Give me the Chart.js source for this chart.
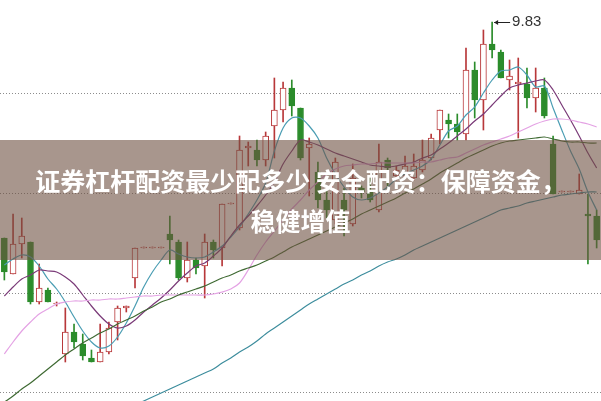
<!DOCTYPE html>
<html lang="zh-CN">
<head>
<meta charset="utf-8">
<title>证券杠杆配资最少配多少 安全配资：保障资金，稳健增值</title>
<script src="https://cdn.jsdelivr.net/npm/chart.js@4.4.1/dist/chart.umd.min.js"></script>
<style>
  html, body { margin: 0; padding: 0; background: #fff; overflow: hidden; }
  #wrap { position: relative; width: 601px; height: 401px; }
  #banner {
    position: absolute; left: 0; top: 140px; width: 601px; height: 120px;
    box-sizing: border-box; padding-top: 20px;
    background: rgba(110, 80, 65, 0.6);
    color: #fff; font-family: "Noto Sans CJK SC", "Noto Sans", sans-serif;
    font-weight: 700; font-size: 25px; line-height: 40px; text-align: center;
  }
</style>
</head>
<body>
<div id="wrap">
  <canvas id="klineChart" width="601" height="401"></canvas>
  <div id="banner">证券杠杆配资最少配多少 安全配资：保障资金，<br>稳健增值</div>
</div>
<script>
// --- Daily prices ---
const openP  = [8.75,8.57,8.72,8.73,8.43,8.49,8.42,8.17,8.28,8.22,8.15,8.13,8.18,8.33,8.40,8.55,8.70,8.70,8.70,8.77,
                8.73,8.55,8.64,8.61,8.73,8.70,8.92,8.80,9.20,9.19,9.14,9.31,9.39,9.50,9.40,9.20,9.08,8.94,8.84,8.94,
                8.82,9.00,8.99,8.89,9.14,9.06,9.06,9.05,9.09,9.15,9.29,9.34,9.32,9.27,9.59,9.44,9.72,9.68,9.54,9.52,
                9.52,9.45,9.50,9.22,8.98,8.98,8.97,8.87,8.86];
const highP  = [8.75,8.87,8.85,8.73,8.62,8.50,8.43,8.40,8.32,8.27,8.19,8.32,8.33,8.41,8.41,8.70,8.70,8.70,8.70,8.86,
                8.74,8.73,8.65,8.77,8.74,8.92,8.92,9.26,9.23,9.24,9.28,9.55,9.53,9.54,9.40,9.25,9.13,8.99,9.15,9.00,
                9.12,9.01,9.05,9.22,9.15,9.11,9.16,9.17,9.24,9.27,9.39,9.37,9.37,9.70,9.63,9.79,9.83,9.69,9.64,9.65,
                9.60,9.60,9.55,9.26,8.98,8.98,9.07,8.97,8.89];
const lowP   = [8.54,8.57,8.65,8.42,8.42,8.43,8.41,8.13,8.20,8.14,8.13,8.13,8.17,8.24,8.38,8.50,8.70,8.70,8.70,8.62,
                8.54,8.53,8.57,8.45,8.65,8.61,8.92,8.79,9.11,9.11,9.11,9.15,9.33,9.36,9.14,8.96,8.90,8.85,8.82,8.76,
                8.81,8.95,8.93,8.88,9.00,9.04,9.05,9.04,9.08,9.14,9.22,9.25,9.24,9.24,9.35,9.29,9.65,9.55,9.49,9.25,
                9.40,9.38,9.35,8.97,8.98,8.98,8.97,8.62,8.70];
const closeP = [8.58,8.72,8.76,8.43,8.50,8.43,8.42,8.28,8.23,8.16,8.13,8.18,8.30,8.40,8.41,8.70,8.70,8.70,8.70,8.74,
                8.55,8.64,8.60,8.73,8.69,8.92,8.92,9.19,9.21,9.14,9.26,9.39,9.50,9.41,9.15,9.22,8.94,8.89,9.13,8.89,
                9.05,8.98,8.94,9.13,9.10,9.09,9.11,9.11,9.14,9.25,9.39,9.32,9.28,9.59,9.44,9.72,9.69,9.55,9.56,9.53,
                9.45,9.50,9.36,8.97,8.98,8.98,8.99,8.86,8.74];

// --- Moving average lines ---
const ma5  = [8.615,8.645,8.665,8.655,8.61,8.545,8.495,8.43,8.355,8.285,8.23,8.20,8.21,8.255,8.325,8.41,8.505,8.58,8.64,8.69,
              8.67,8.655,8.65,8.655,8.68,8.71,8.755,8.805,8.87,8.94,9.025,9.185,9.30,9.35,9.35,9.31,9.25,9.15,9.07,9.005,
              8.955,8.94,8.95,8.975,9.005,9.045,9.07,9.09,9.11,9.145,9.215,9.285,9.31,9.365,9.405,9.475,9.54,9.585,9.59,9.605,
              9.565,9.505,9.51,9.40,9.29,9.185,9.095,8.98,8.89];
const ma10 = [8.46,8.505,8.545,8.565,8.59,8.585,8.58,8.555,8.52,8.465,8.41,8.36,8.32,8.30,8.31,8.34,8.38,8.415,8.45,8.49,
              8.535,8.575,8.61,8.625,8.66,8.70,8.76,8.815,8.86,8.91,8.965,9.03,9.12,9.185,9.24,9.23,9.215,9.195,9.175,9.16,
              9.145,9.13,9.115,9.11,9.105,9.11,9.12,9.13,9.15,9.165,9.195,9.225,9.26,9.295,9.335,9.37,9.415,9.46,9.50,9.515,
              9.525,9.535,9.54,9.49,9.415,9.34,9.26,9.175,9.10];
const ma20 = [8.17,8.23,8.285,8.33,8.37,8.395,8.42,8.43,8.435,8.435,8.44,8.44,8.445,8.445,8.45,8.455,8.46,8.46,8.465,8.465,
              8.465,8.465,8.465,8.465,8.47,8.48,8.495,8.525,8.59,8.665,8.73,8.785,8.84,8.895,8.94,8.99,9.03,9.07,9.095,9.11,
              9.115,9.12,9.12,9.125,9.125,9.125,9.125,9.125,9.13,9.13,9.14,9.15,9.155,9.175,9.195,9.215,9.23,9.245,9.26,9.28,
              9.30,9.32,9.335,9.345,9.345,9.34,9.33,9.32,9.305];
const ma30 = [7.93,7.96,7.995,8.025,8.06,8.095,8.13,8.165,8.195,8.225,8.25,8.275,8.295,8.32,8.34,8.36,8.385,8.405,8.43,8.445,
              8.465,8.48,8.495,8.51,8.53,8.55,8.565,8.585,8.60,8.615,8.635,8.655,8.68,8.705,8.725,8.745,8.765,8.785,8.805,8.825,
              8.845,8.87,8.89,8.91,8.93,8.95,8.975,8.995,9.02,9.045,9.075,9.10,9.125,9.15,9.17,9.19,9.21,9.225,9.235,9.24,
              9.245,9.25,9.255,9.245,9.235,9.23,9.23,9.225,9.225];
const ma60 = [null,null,null,null,null,null,null,null,null,null,null,null,null,null,7.895,7.915,7.935,7.955,7.975,7.995,
              8.015,8.035,8.055,8.075,8.095,8.125,8.15,8.18,8.205,8.235,8.27,8.30,8.33,8.36,8.39,8.42,8.445,8.47,8.495,8.52,
              8.54,8.565,8.585,8.61,8.63,8.645,8.665,8.69,8.71,8.73,8.75,8.77,8.79,8.81,8.83,8.85,8.87,8.89,8.90,8.91,
              8.925,8.935,8.945,8.955,8.965,8.97,8.975,8.98,8.98];

// --- Axis range and the dotted price levels ---
const priceMin = 7.935;
const priceMax = 9.94;
const gridLevels = [9.4775, 8.9775, 8.4775, 7.9775];

const days = openP.map((_, i) => 'D' + (i + 1));

// --- Colours ---
const UP = '#b8383a';
const DOWN = '#2b8c2b';

function isUp(i){
    return closeP[i] >= openP[i];
}

// --- Plugins ---
// dotted horizontal levels under the candles
const gridPlugin = {
    id: 'dottedGrid',
    beforeDatasetsDraw(chart){
        let ctx = chart.ctx;
        let area = chart.chartArea;
        let y = chart.scales.y;
        ctx.save();
        ctx.strokeStyle = '#8c8c8c';
        ctx.lineWidth = 1;
        ctx.setLineDash([1, 2]);
        gridLevels.forEach(level => {
            let py = Math.round(y.getPixelForValue(level)) + 0.5;
            ctx.beginPath();
            ctx.moveTo(area.left, py);
            ctx.lineTo(area.right, py);
            ctx.stroke();
        });
        ctx.restore();
    }
};

// arrow + label on the highest high
const highMarkPlugin = {
    id: 'highMark',
    afterDatasetsDraw(chart){
        let top = Math.max(...highP);
        let idx = highP.indexOf(top);
        let px = chart.scales.x.getPixelForValue(idx);
        let py = Math.round(chart.scales.y.getPixelForValue(top)) + 0.5;
        let ctx = chart.ctx;
        ctx.save();
        ctx.strokeStyle = '#222';
        ctx.fillStyle = '#222';
        ctx.lineWidth = 1;
        ctx.beginPath();
        ctx.moveTo(px + 2, py);
        ctx.lineTo(px + 18, py);
        ctx.stroke();
        ctx.beginPath();
        ctx.moveTo(px + 2, py);
        ctx.lineTo(px + 6, py - 2.5);
        ctx.lineTo(px + 6, py + 2.5);
        ctx.closePath();
        ctx.fill();
        ctx.fillStyle = '#333';
        ctx.font = '15px "Liberation Sans", Arial, sans-serif';
        ctx.textBaseline = 'middle';
        ctx.fillText(top.toFixed(2), px + 20, py - 1);
        ctx.restore();
    }
};

// --- Chart ---
function renderKline(){
    let ctx = document.getElementById('klineChart').getContext('2d');

    let wicks = days.map((_, i) => [lowP[i], highP[i]]);
    let bodies = days.map((_, i) => [Math.min(openP[i], closeP[i]), Math.max(openP[i], closeP[i])]);
    let candleColors = days.map((_, i) => isUp(i) ? UP : DOWN);
    let bodyFill = days.map((_, i) => isUp(i) ? '#ffffff' : DOWN);

    let maLine = (data, color) => ({
        type: 'line',
        data: data,
        borderColor: color,
        borderWidth: 1.2,
        pointRadius: 0,
        tension: 0.3,
        fill: false,
        spanGaps: false,
        order: 0
    });

    new Chart(ctx, {
        type: 'bar',
        data: {
            labels: days,
            datasets: [
                {
                    data: wicks,
                    backgroundColor: candleColors,
                    barThickness: 1,
                    minBarLength: 1,
                    grouped: false,
                    order: 2
                },
                {
                    data: bodies,
                    backgroundColor: bodyFill,
                    borderColor: candleColors,
                    borderWidth: 1,
                    borderSkipped: false,
                    barThickness: 6,
                    minBarLength: 1,
                    grouped: false,
                    order: 1
                },
                maLine(ma60, '#3d8d9d'),
                maLine(ma30, '#3f6a33'),
                maLine(ma20, '#e4a2e4'),
                maLine(ma10, '#7a3a78'),
                maLine(ma5, '#4a9db3')
            ]
        },
        options: {
            responsive: false,
            animation: false,
            layout: { padding: 0 },
            plugins: {
                legend: { display: false },
                tooltip: { enabled: false }
            },
            scales: {
                x: { display: false, offset: true },
                y: { display: false, min: priceMin, max: priceMax }
            }
        },
        plugins: [gridPlugin, highMarkPlugin]
    });
}

// --- Initial Load ---
renderKline();
</script>
</body>
</html>
